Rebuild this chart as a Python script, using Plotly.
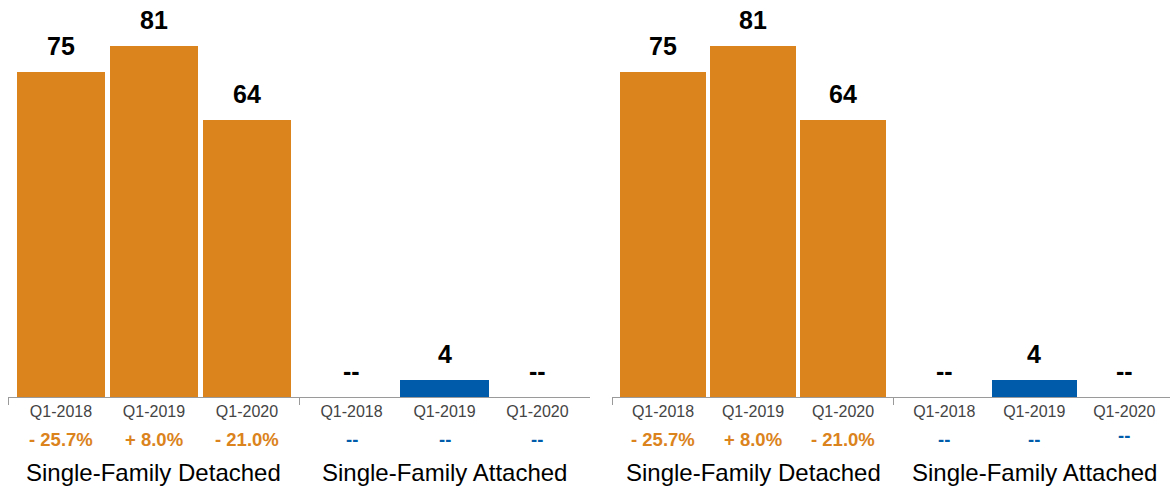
import plotly.graph_objects as go

# ---- data ----
quarters = ["Q1-2018", "Q1-2019", "Q1-2020"]
groups = ["Single-Family Detached", "Single-Family Attached"]
detached_values = [75, 81, 64]
attached_values = [0, 4, 0]
detached_changes = ["- 25.7%", "+ 8.0%", "- 21.0%"]
attached_changes = ["--", "--", "--"]

ORANGE = "#DB831C"
BLUE = "#005BAA"
GAP = 0.125
FONT = "Liberation Sans, Arial, sans-serif"

W, H = 1170, 488
BASE_PX = 397  # baseline

series = [
    (detached_values, detached_changes, ORANGE),
    (attached_values, attached_changes, BLUE),
]

# panel definitions: (domain px left, domain px right, range)
panels = [
    (8, 590, [-0.57, 5.69]),
    (612, 1170, [-0.567, 5.633]),
]

fig = go.Figure()
annotations = []

for pi, (pl, pr, rng) in enumerate(panels):
    xa = "x" if pi == 0 else "x2"
    ya = "y" if pi == 0 else "y2"
    xkey = "xaxis" if pi == 0 else "xaxis2"
    ykey = "yaxis" if pi == 0 else "yaxis2"
    all_pos = []
    all_lab = []
    for gi, (vals, changes, color) in enumerate(series):
        pos = [gi * (3 + GAP) + ci for ci in range(len(quarters))]
        all_pos += pos
        all_lab += quarters
        fig.add_trace(go.Bar(
            x=pos, y=vals, width=0.95, marker=dict(color=color, line=dict(width=0)),
            xaxis=xa, yaxis=ya, showlegend=False, hoverinfo="skip",
        ))
        for p, v, c in zip(pos, vals, changes):
            annotations.append(dict(
                x=p, y=v, xref=xa, yref=ya, text=f"<b>{v if v else '--'}</b>",
                showarrow=False, yanchor="bottom", yshift=10,
                font=dict(size=25, color="#000", family=FONT),
            ))
            extra = 4 if (pi == 1 and gi == 1 and p == pos[-1]) else 0
            annotations.append(dict(
                x=p, y=0, xref=xa, yref=ya, text=f"<b>{c}</b>",
                showarrow=False, yanchor="middle", yshift=-42 + extra,
                font=dict(size=18.5, color=color, family=FONT),
            ))
        annotations.append(dict(
            x=pos[1], y=0, xref=xa, yref=ya, text=groups[gi],
            showarrow=False, yanchor="middle", yshift=-75,
            font=dict(size=24, color="#000", family=FONT),
        ))
    bounds = [-0.57 if pi == 0 else -0.567, 2.5 + GAP / 2, 5 + GAP + 0.57]
    fig.update_layout(**{
        xkey: dict(
            domain=[pl / W, pr / W], range=rng, anchor=ya,
            tickvals=all_pos, ticktext=all_lab, ticks="", ticklen=0,
            tickfont=dict(size=16, color="#444", family=FONT),
            showline=True, linecolor="#9a9a9a", linewidth=1,
            showgrid=False, zeroline=False, fixedrange=True,
            minor=dict(tickvals=bounds, ticks="outside", ticklen=7,
                       tickcolor="#9a9a9a", tickwidth=1, showgrid=False),
        ),
        ykey: dict(
            domain=[0, 1], range=[0, BASE_PX / 4.33], anchor=xa,
            visible=False, showgrid=False, zeroline=False, fixedrange=True,
        ),
    })

fig.update_layout(
    width=W, height=H,
    margin=dict(l=0, r=0, t=0, b=H - BASE_PX),
    plot_bgcolor="white", paper_bgcolor="white",
    annotations=annotations, bargap=0,
    font=dict(family=FONT),
)

fig.write_html(
    "out.html",
    config={"displayModeBar": False},
    post_script="document.body.style.margin='0';document.body.style.overflow='hidden';",
)
